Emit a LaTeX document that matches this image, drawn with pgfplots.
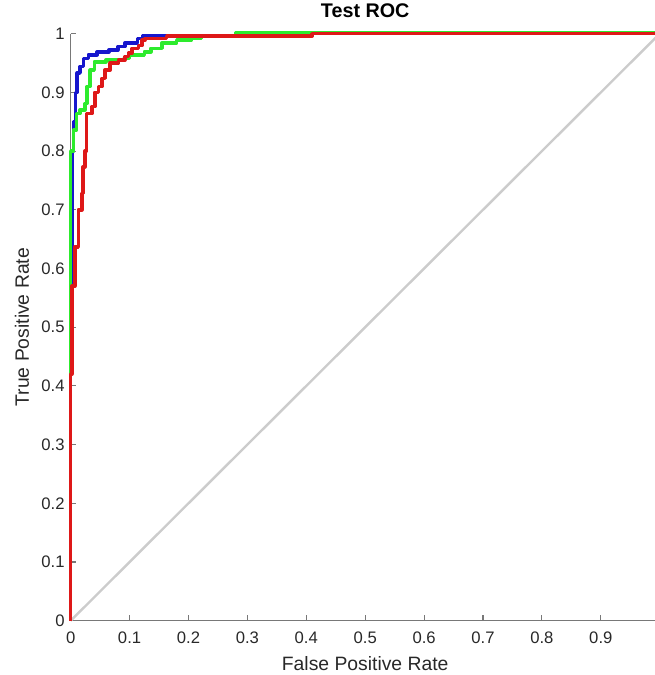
\documentclass[border=0pt]{standalone}
\usepackage{fontspec}
\setmainfont{Liberation Sans}
\usepackage{pgfplots}
\pgfplotsset{compat=1.18}
\definecolor{rocblue}{RGB}{22,22,205}
\definecolor{rocgreen}{RGB}{45,235,45}
\definecolor{rocred}{RGB}{222,24,24}
\definecolor{diaggray}{RGB}{204,204,204}
\definecolor{axgray}{RGB}{120,120,120}
\definecolor{txtgray}{RGB}{40,40,40}

\begin{document}
\begin{tikzpicture}
% picture is cut at the right, as in the reference
\useasboundingbox (-53.0pt,-40.7pt) rectangle (437.5pt,465.5pt);
\begin{axis}[
  at={(0,0)}, anchor=south west,
  scale only axis, width=441.75pt, height=440.25pt,
  xmin=0, xmax=1, ymin=0, ymax=1,
  xtick={0,0.1,0.2,0.3,0.4,0.5,0.6,0.7,0.8,0.9}, ytick={0,0.1,...,1},
  axis x line*=bottom, axis y line*=left,
  axis line style={axgray, line width=0.8pt, -},
  tick style={axgray, line width=0.8pt},
  tick align=inside, major tick length=4pt,
  /pgf/number format/assume math mode=true,
  tick label style={font=\fontsize{12.5}{15}\selectfont, text=txtgray},
  xticklabel style={yshift=-4.5pt},
  yticklabel style={xshift=-1pt},
  title={Test ROC},
  title style={at={(0.5,1.0136)}, anchor=base, font=\fontsize{14.8}{17}\selectfont\bfseries},
  xlabel={False Positive Rate},
  xlabel style={at={(0.5,-0.084)}, anchor=base, font=\fontsize{14.5}{17}\selectfont, text=txtgray},
  ylabel={True Positive Rate},
  ylabel style={at={(-0.0709,0.5)}, anchor=base, font=\fontsize{14.5}{17}\selectfont, text=txtgray},
  clip=false,
]
% chance line
\addplot[diaggray, line width=1.8pt] coordinates {(0,0) (1,1)};
% blue
\addplot[rocblue, line width=2.6pt, line join=round] coordinates {
(0,0) (0,0.5) (0.003,0.5) (0.003,0.80) (0.005,0.80) (0.005,0.85) (0.008,0.85) (0.008,0.90)
(0.011,0.90) (0.011,0.933) (0.016,0.933) (0.016,0.944) (0.022,0.944) (0.022,0.958)
(0.030,0.958) (0.030,0.964) (0.045,0.964) (0.045,0.969) (0.065,0.969) (0.065,0.972)
(0.080,0.972) (0.080,0.978) (0.092,0.978) (0.092,0.984) (0.113,0.984) (0.113,0.992)
(0.122,0.992) (0.122,0.997) (0.410,0.997) (0.410,1) (1,1)};
% green
\addplot[rocgreen, line width=2.6pt, line join=round] coordinates {
(0,0) (0,0.80) (0.005,0.80) (0.005,0.836) (0.010,0.836) (0.010,0.864) (0.016,0.864)
(0.016,0.87) (0.024,0.87) (0.024,0.881) (0.028,0.881) (0.028,0.91) (0.033,0.91)
(0.033,0.938) (0.040,0.938) (0.040,0.952) (0.060,0.952) (0.060,0.955) (0.090,0.955)
(0.090,0.958) (0.100,0.958) (0.100,0.964) (0.125,0.964) (0.125,0.969) (0.136,0.969)
(0.136,0.975) (0.155,0.975) (0.155,0.984) (0.180,0.984) (0.180,0.989) (0.205,0.989)
(0.205,0.992) (0.222,0.992) (0.222,0.996) (0.280,0.996) (0.280,1.002) (1,1.002)};
% red
\addplot[rocred, line width=2.6pt, line join=round] coordinates {
(0,0) (0,0.42) (0.002,0.42) (0.002,0.57) (0.007,0.57) (0.007,0.637) (0.013,0.637) (0.013,0.70) (0.019,0.70)
(0.019,0.728) (0.021,0.728) (0.021,0.773) (0.024,0.773) (0.024,0.80) (0.027,0.80)
(0.027,0.864) (0.036,0.864) (0.036,0.876) (0.041,0.876) (0.041,0.90) (0.047,0.90)
(0.047,0.91) (0.053,0.91) (0.053,0.924) (0.058,0.924) (0.058,0.938) (0.067,0.938)
(0.067,0.95) (0.081,0.95) (0.081,0.955) (0.092,0.955) (0.092,0.961) (0.098,0.961)
(0.098,0.967) (0.104,0.967) (0.104,0.975) (0.115,0.975) (0.115,0.98) (0.121,0.98)
(0.121,0.989) (0.126,0.989) (0.126,0.992) (0.163,0.992) (0.163,0.996) (0.410,0.996)
(0.410,1) (1,1)};
\end{axis}
\end{tikzpicture}
\end{document}
